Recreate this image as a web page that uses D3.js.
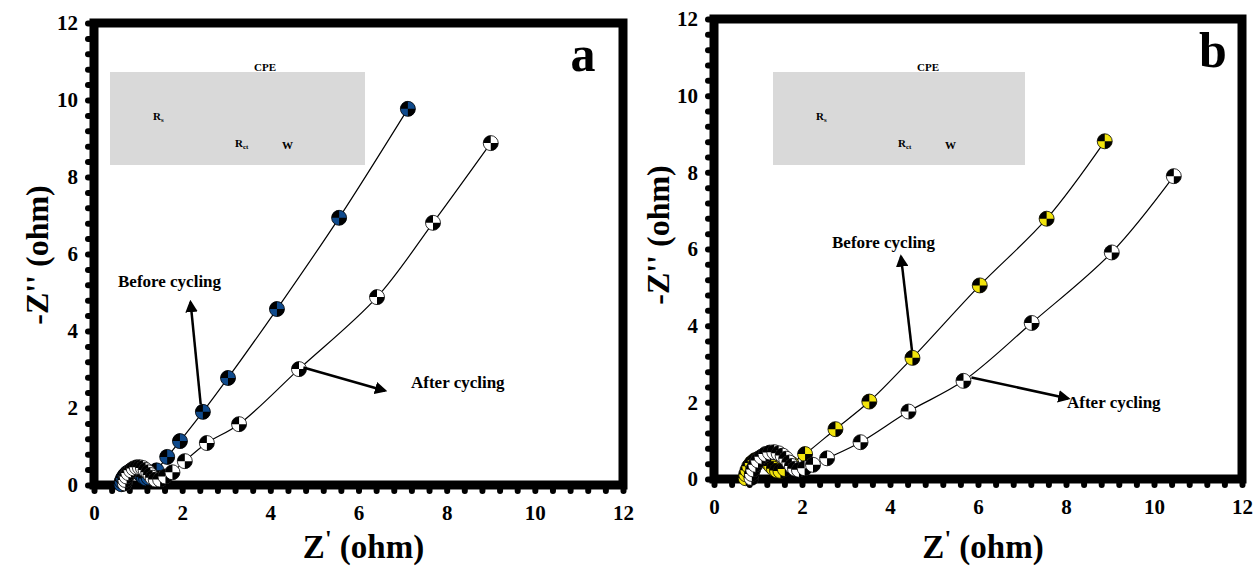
<!DOCTYPE html>
<meta charset="utf-8">
<script src="https://d3js.org/d3.v7.min.js"></script>
<style>
  body { margin: 0; background: #fff; }
  text { font-family: "Liberation Serif", "Times New Roman", serif; font-weight: bold; }
</style>
<body>
<div id="chart"></div>
<script>
// tick labels shared by both panels
var tickLabels = [0, 2, 4, 6, 8, 10, 12];

// panel a : Z' / -Z'' (ohm)
var beforeA = [[0.62,0.02],[0.63,0.10],[0.66,0.18],[0.70,0.25],[0.75,0.31],[0.81,0.35],[0.87,0.37],[0.93,0.37],[0.99,0.34],[1.04,0.30],[1.09,0.25],[1.13,0.20],[1.18,0.17],[1.24,0.19],[1.31,0.26],[1.42,0.38],[1.66,0.73],[1.95,1.14],[2.47,1.90],[3.04,2.78],[4.15,4.57],[5.56,6.94],[7.12,9.77]];
var afterA = [[0.70,0.04],[0.71,0.13],[0.74,0.22],[0.78,0.31],[0.84,0.38],[0.90,0.43],[0.97,0.46],[1.04,0.46],[1.11,0.44],[1.17,0.39],[1.23,0.33],[1.28,0.26],[1.33,0.19],[1.40,0.14],[1.50,0.14],[1.62,0.22],[1.78,0.33],[2.06,0.62],[2.56,1.09],[3.29,1.58],[4.65,3.01],[6.42,4.88],[7.69,6.81],[9.00,8.88]];

// panel b
var beforeB = [[0.72,0.02],[0.73,0.12],[0.76,0.23],[0.80,0.33],[0.86,0.42],[0.93,0.49],[1.01,0.53],[1.09,0.53],[1.17,0.49],[1.24,0.42],[1.30,0.34],[1.36,0.27],[1.43,0.22],[1.51,0.21],[1.61,0.26],[1.76,0.40],[2.07,0.65],[2.76,1.30],[3.53,2.02],[4.51,3.16],[6.04,5.05],[7.56,6.79],[8.88,8.81]];
var afterB = [[0.85,0.03],[0.86,0.13],[0.89,0.25],[0.94,0.37],[1.00,0.48],[1.08,0.58],[1.17,0.65],[1.27,0.69],[1.37,0.70],[1.47,0.67],[1.56,0.61],[1.64,0.53],[1.71,0.43],[1.77,0.34],[1.84,0.27],[1.93,0.24],[2.06,0.28],[2.25,0.37],[2.57,0.54],[3.33,0.96],[4.42,1.76],[5.67,2.56],[7.22,4.07],[9.04,5.91],[10.45,7.90]];

var panels = [
  { letter: "a", letterX: 583, x0: 94, x1: 623, y0: 485, y1: 23, before: beforeA, after: afterA, color: "#0f4a8c",
    inset: [110, 72, 255, 93],
    beforeText: [118, 287], beforeArrow: [[2.42, 2.1], [2.19, 4.75]],
    afterText: [411, 388], afterArrow: [[4.75, 3.05], [6.6, 2.45]],
    yTitle: [37, 255] },
  { letter: "b", letterX: 1213, x0: 714, x1: 1242, y0: 479, y1: 19, before: beforeB, after: afterB, color: "#f2e40c",
    inset: [773, 72, 252, 93],
    beforeText: [832, 248], beforeArrow: [[4.5, 3.35], [4.25, 5.8]],
    afterText: [1067, 408], afterArrow: [[5.85, 2.65], [8.05, 2.1]],
    yTitle: [658, 235] }
];

var svg = d3.select("#chart").append("svg")
  .attr("width", 1258)
  .attr("height", 567);

svg.append("defs").append("marker")
  .attr("id", "arrow")
  .attr("viewBox", "0 0 10 10")
  .attr("refX", 8).attr("refY", 5)
  .attr("markerWidth", 5).attr("markerHeight", 5)
  .attr("orient", "auto")
  .append("path")
  .attr("d", "M0,0 L10,5 L0,10 Z")
  .attr("fill", "#000");

var R = 7.5;

panels.forEach(function(p) {
  var x = d3.scaleLinear().domain([0, 12]).range([p.x0, p.x1]);
  var y = d3.scaleLinear().domain([0, 12]).range([p.y0, p.y1]);
  var g = svg.append("g");

  // minor bump ticks (left and bottom)
  var minor = d3.range(0, 12.001, 0.4);
  var yMinor = g.append("g").attr("transform", "translate(" + p.x0 + ",0)")
    .call(d3.axisLeft(y).tickValues(minor).tickSize(6).tickFormat(""));
  var xMinor = g.append("g").attr("transform", "translate(0," + p.y0 + ")")
    .call(d3.axisBottom(x).tickValues(minor).tickSize(6).tickFormat(""));
  [yMinor, xMinor].forEach(function(a) {
    a.select(".domain").remove();
    a.selectAll("line").attr("stroke", "#000").attr("stroke-width", 6).attr("stroke-linecap", "round");
  });

  // labelled axes
  var yAx = g.append("g").attr("transform", "translate(" + p.x0 + ",0)")
    .call(d3.axisLeft(y).tickValues(tickLabels).tickSize(0).tickPadding(16));
  var xAx = g.append("g").attr("transform", "translate(0," + p.y0 + ")")
    .call(d3.axisBottom(x).tickValues(tickLabels).tickSize(0).tickPadding(20));
  [yAx, xAx].forEach(function(a) {
    a.select(".domain").remove();
    a.selectAll("text").attr("font-family", "Liberation Serif").attr("font-weight", "bold")
      .attr("font-size", 21).attr("fill", "#000");
  });

  // frame
  g.append("rect")
    .attr("x", p.x0).attr("y", p.y1)
    .attr("width", p.x1 - p.x0).attr("height", p.y0 - p.y1)
    .attr("fill", "none").attr("stroke", "#000").attr("stroke-width", 9);

  // inset circuit box
  var ins = g.append("g");
  ins.append("rect").attr("x", p.inset[0]).attr("y", p.inset[1])
    .attr("width", p.inset[2]).attr("height", p.inset[3]).attr("fill", "#d9d9d9");
  var ix = p.inset[0], iy = p.inset[1];
  ins.append("text").attr("x", ix + 155).attr("y", iy - 1).attr("text-anchor", "middle")
    .attr("font-size", 11).text("CPE");
  var rs = ins.append("text").attr("x", ix + 43).attr("y", iy + 48).attr("font-size", 11);
  rs.append("tspan").text("R");
  rs.append("tspan").attr("font-size", 7).attr("dy", 2).text("s");
  var rct = ins.append("text").attr("x", ix + 125).attr("y", iy + 75).attr("font-size", 11);
  rct.append("tspan").text("R");
  rct.append("tspan").attr("font-size", 7).attr("dy", 2).text("ct");
  ins.append("text").attr("x", ix + 172).attr("y", iy + 77).attr("font-size", 11).text("W");

  // fitted curves
  var line = d3.line().x(function(d) { return x(d[0]); }).y(function(d) { return y(d[1]); })
    .curve(d3.curveCatmullRom.alpha(0.5));
  [p.before, p.after].forEach(function(s) {
    g.append("path").datum(s).attr("d", line)
      .attr("fill", "none").attr("stroke", "#000").attr("stroke-width", 1.2);
  });

  // checkered markers
  function drawSeries(s, color) {
    var m = g.append("g").selectAll("g").data(s).join("g")
      .attr("transform", function(d) { return "translate(" + x(d[0]) + "," + y(d[1]) + ")"; });
    m.append("circle").attr("r", R).attr("fill", color).attr("stroke", "#000").attr("stroke-width", 0.8);
    m.append("path").attr("d", "M0,0 L" + (-R) + ",0 A" + R + "," + R + " 0 0 1 0," + (-R) + " Z").attr("fill", "#000");
    m.append("path").attr("d", "M0,0 L" + R + ",0 A" + R + "," + R + " 0 0 1 0," + R + " Z").attr("fill", "#000");
  }
  drawSeries(p.before, p.color);
  drawSeries(p.after, "#fff");

  // annotations
  g.append("text").attr("x", p.beforeText[0]).attr("y", p.beforeText[1]).attr("font-size", 17).text("Before cycling");
  g.append("text").attr("x", p.afterText[0]).attr("y", p.afterText[1]).attr("font-size", 17).text("After cycling");
  [p.beforeArrow, p.afterArrow].forEach(function(a) {
    g.append("line")
      .attr("x1", x(a[0][0])).attr("y1", y(a[0][1]))
      .attr("x2", x(a[1][0])).attr("y2", y(a[1][1]))
      .attr("stroke", "#000").attr("stroke-width", 2.5)
      .attr("marker-end", "url(#arrow)");
  });

  // panel letter
  g.append("text").attr("x", p.letterX).attr("y", p.y1 + 48).attr("text-anchor", "middle")
    .attr("font-size", 50).text(p.letter);

  // axis titles
  var xt = g.append("text").attr("x", (p.x0 + p.x1) / 2 + 5).attr("y", 558)
    .attr("text-anchor", "middle").attr("font-size", 33);
  xt.append("tspan").text("Z");
  xt.append("tspan").attr("dy", -12).attr("font-size", 24).text("'");
  xt.append("tspan").attr("dy", 12).text(" (ohm)");

  g.append("text")
    .attr("transform", "translate(" + p.yTitle[0] + "," + p.yTitle[1] + ") rotate(-90)")
    .attr("text-anchor", "middle").attr("dy", "0.35em").attr("font-size", 32)
    .text("-Z'' (ohm)");
});
</script>
</body>
